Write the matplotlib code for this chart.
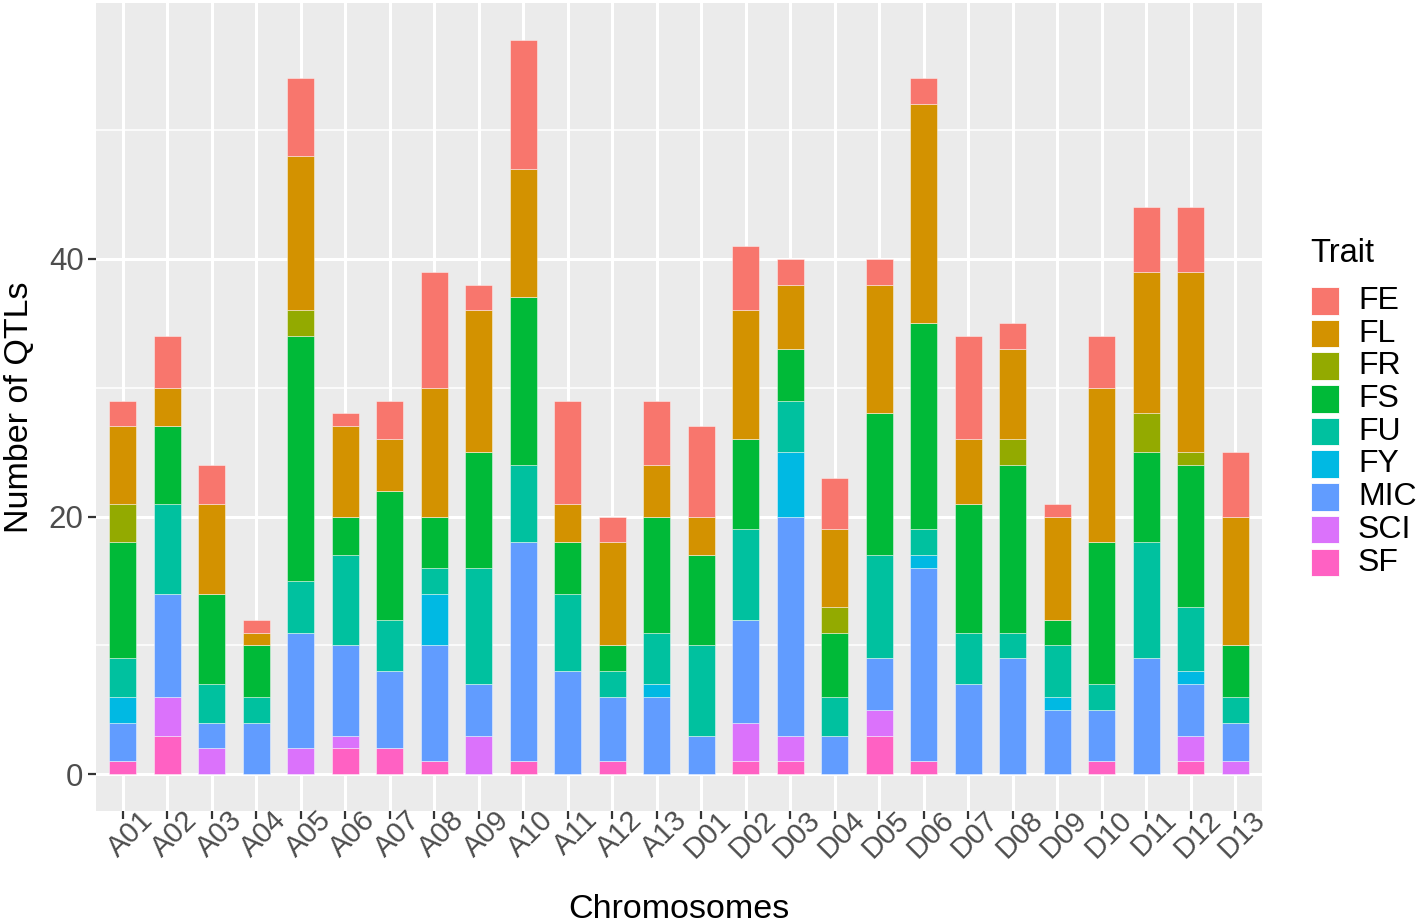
import matplotlib
matplotlib.use('Agg')
import matplotlib.pyplot as plt
import matplotlib.transforms as mtransforms
from matplotlib.patches import Rectangle
import numpy as np

plt.rcParams['font.family'] = ['Liberation Sans', 'DejaVu Sans']

# Data
chromosomes = ['A01', 'A02', 'A03', 'A04', 'A05', 'A06', 'A07', 'A08', 'A09', 'A10',
               'A11', 'A12', 'A13', 'D01', 'D02', 'D03', 'D04', 'D05', 'D06', 'D07',
               'D08', 'D09', 'D10', 'D11', 'D12', 'D13']
traits = ['FE', 'FL', 'FR', 'FS', 'FU', 'FY', 'MIC', 'SCI', 'SF']
colors = ['#F8766D', '#D39200', '#93AA00', '#00BA38', '#00C19F',
          '#00B9E3', '#619CFF', '#DB72FB', '#FF61C3']

SF  = [1, 3, 0, 0, 0, 2, 2, 1, 0, 1, 0, 1, 0, 0, 1, 1, 0, 3, 1, 0, 0, 0, 1, 0, 1, 0]
SCI = [0, 3, 2, 0, 2, 1, 0, 0, 3, 0, 0, 0, 0, 0, 3, 2, 0, 2, 0, 0, 0, 0, 0, 0, 2, 1]
MIC = [3, 8, 2, 4, 9, 7, 6, 9, 4, 17, 8, 5, 6, 3, 8, 17, 3, 4, 15, 7, 9, 5, 4, 9, 4, 3]
FY  = [2, 0, 0, 0, 0, 0, 0, 4, 0, 0, 0, 0, 1, 0, 0, 5, 0, 0, 1, 0, 0, 1, 0, 0, 1, 0]
FU  = [3, 7, 3, 2, 4, 7, 4, 2, 9, 6, 6, 2, 4, 7, 7, 4, 3, 8, 2, 4, 2, 4, 2, 9, 5, 2]
FS  = [9, 6, 7, 4, 19, 3, 10, 4, 9, 13, 4, 2, 9, 7, 7, 4, 5, 11, 16, 10, 13, 2, 11, 7, 11, 4]
FR  = [3, 0, 0, 0, 2, 0, 0, 0, 0, 0, 0, 0, 0, 0, 0, 0, 2, 0, 0, 0, 2, 0, 0, 3, 1, 0]
FL  = [6, 3, 7, 1, 12, 7, 4, 10, 11, 10, 3, 8, 4, 3, 10, 5, 6, 10, 17, 5, 7, 8, 12, 11, 14, 10]
FE  = [2, 4, 3, 1, 6, 1, 3, 9, 2, 10, 8, 2, 5, 7, 5, 2, 4, 2, 2, 8, 2, 1, 4, 5, 5, 5]

series = {'FE': FE, 'FL': FL, 'FR': FR, 'FS': FS, 'FU': FU,
          'FY': FY, 'MIC': MIC, 'SCI': SCI, 'SF': SF}

W, H = 1418, 923
fig = plt.figure(figsize=(W / 100, H / 100), dpi=100)
ax = fig.add_axes([96 / W, 1 - 811 / H, (1262 - 96) / W, (811 - 3) / H])
ax.set_facecolor('#EBEBEB')

x = np.arange(len(chromosomes))
bottom = np.zeros(len(chromosomes))
# stack from the bottom: SF first, FE on top
for name, col in reversed(list(zip(traits, colors))):
    vals = np.array(series[name], dtype=float)
    ax.bar(x, vals, width=0.6, bottom=bottom, color=col,
           edgecolor=(1, 1, 1, 0.5), linewidth=0.6, zorder=3)
    bottom += vals

ax.set_xlim(-0.6, len(chromosomes) - 0.4)
ymax = bottom.max()
ax.set_ylim(-0.05 * ymax, 1.05 * ymax)

ax.set_yticks([0, 20, 40])
ax.set_yticks([10, 30, 50], minor=True)
ax.set_xticks(x)
ax.set_xticklabels([])
ax.grid(which='major', color='white', linewidth=2.2, zorder=0)
ax.grid(which='minor', axis='y', color='white', linewidth=1.1, zorder=0)
ax.set_axisbelow(True)
for s in ax.spines.values():
    s.set_visible(False)

ax.tick_params(axis='both', which='major', length=6, width=1.6, color='#333333',
               labelsize=22.5, labelcolor='#4D4D4D', pad=3)
ax.tick_params(axis='y', which='minor', length=0)

# rotated chromosome labels, anchored at their right end
lab_tr = ax.get_xaxis_transform() + mtransforms.ScaledTranslation(
    25.8 / 100, -4.5 / 100, fig.dpi_scale_trans)
for xi, name in zip(x, chromosomes):
    ax.text(xi, 0, name, transform=lab_tr, rotation=45, rotation_mode='anchor',
            ha='right', va='center', fontsize=21, color='#4D4D4D')

# axis titles placed at the reference positions
fig.text(679 / W, 1 - 918 / H, 'Chromosomes', fontsize=24.5, ha='center', va='baseline')
fig.text(28 / W, 1 - 407 / H, 'Number of QTLs', fontsize=24.5, ha='center', va='baseline',
         rotation=90, rotation_mode='anchor')

# legend drawn by hand in pixel coordinates
fig.text(1310 / W, 1 - 253 / H, 'Trait', fontsize=23.5, ha='left', va='center')
key_top = 287
for i, (name, col) in enumerate(zip(traits, colors)):
    y0 = key_top + i * 32.7
    fig.add_artist(Rectangle((1311 / W, 1 - (y0 + 27.5) / H), 28 / W, 27.5 / H,
                             transform=fig.transFigure, facecolor=col,
                             edgecolor='white', linewidth=0.6))
    fig.text(1358 / W, 1 - (y0 + 14) / H, name, fontsize=23, ha='left', va='center')

fig.savefig('out.png', dpi=100)
